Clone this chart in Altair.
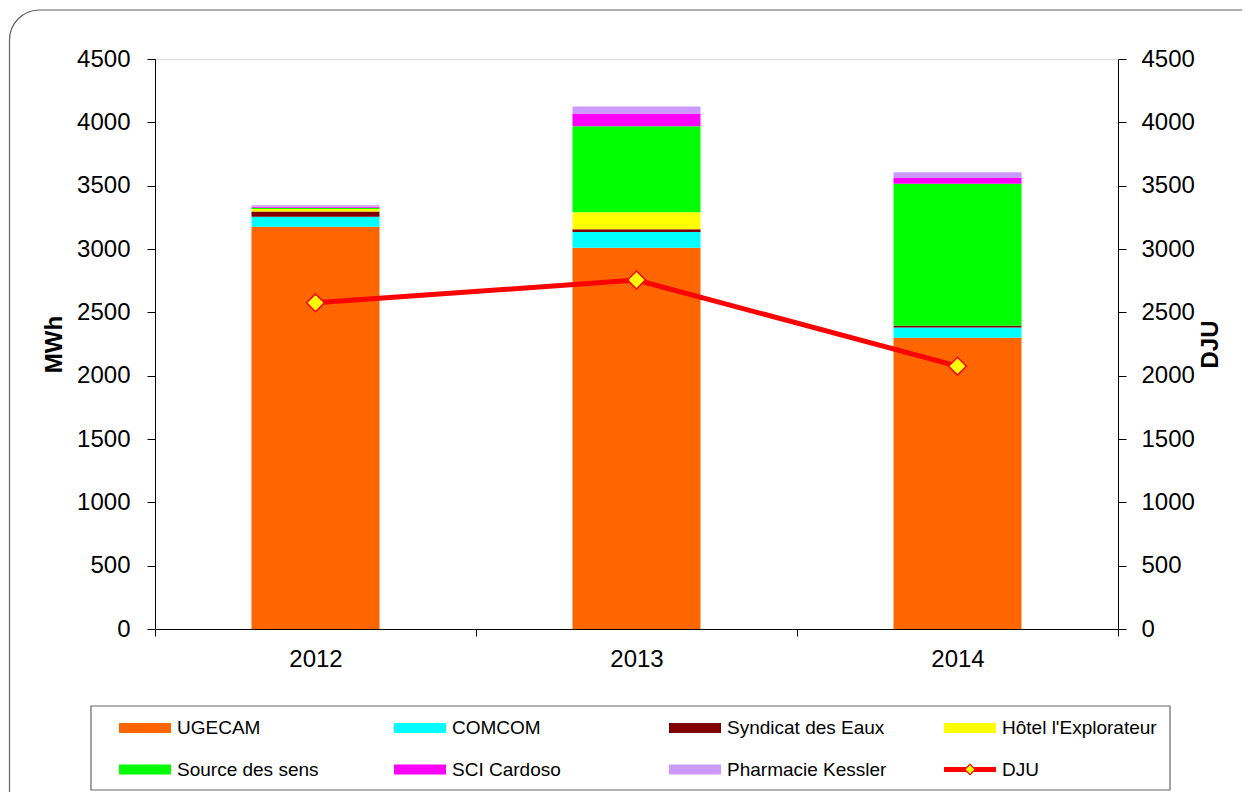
import altair as alt
import pandas as pd

years = ["2012", "2013", "2014"]
series_names = ["UGECAM", "COMCOM", "Syndicat des Eaux", "Hôtel l'Explorateur",
                "Source des sens", "SCI Cardoso", "Pharmacie Kessler"]
series_colors = ["#FF6600", "#00FFFF", "#800000", "#FFFF00",
                 "#00FF00", "#FF00FF", "#CC99FF"]
ugecam = [3175, 3010, 2300]
comcom = [80, 125, 80]
syndicat = [42, 20, 15]
hotel = [18, 135, 0]
source = [10, 680, 1120]
sci = [8, 100, 45]
pharmacie = [13, 55, 45]
dju = [2575, 2755, 2075]
y_ticks = [0, 500, 1000, 1500, 2000, 2500, 3000, 3500, 4000, 4500]

legend_labels = series_names + ["DJU"]
legend_cols = [0, 1, 2, 3, 0, 1, 2, 3]
legend_rows = [0, 0, 0, 0, 1, 1, 1, 1]

all_values = [ugecam, comcom, syndicat, hotel, source, sci, pharmacie]
rows = []
for i, name in enumerate(series_names):
    for j, yr in enumerate(years):
        rows.append({"year": yr, "series": name, "value": all_values[i][j], "order": i})
df_bars = pd.DataFrame(rows)
df_line = pd.DataFrame({"year": years, "DJU": dju})
df_leg = pd.DataFrame({"series": legend_labels, "col": legend_cols, "row": legend_rows})
df_leg_bars = df_leg[df_leg["series"] != "DJU"]
df_leg_line = df_leg[df_leg["series"] == "DJU"]
one = pd.DataFrame({"k": [0]})

FONT = "Liberation Sans"

color_scale = alt.Scale(domain=series_names, range=series_colors)

bars = alt.Chart(df_bars).mark_bar(size=128).encode(
    x=alt.X("year:N", scale=alt.Scale(domain=years, paddingInner=0, paddingOuter=0),
            axis=alt.Axis(title=None, labelAngle=0, tickBand="extent", tickSize=7,
                          labelPadding=11, labelFontSize=24, domainColor="black",
                          tickColor="black", labelColor="black")),
    y=alt.Y("value:Q", stack="zero", scale=alt.Scale(domain=[0, 4500], nice=False),
            axis=alt.Axis(values=y_ticks, format="d", title="MWh", grid=False, tickSize=8,
                          labelPadding=17, labelFontSize=24, titleFontSize=24,
                          titleFontWeight="bold", titlePadding=10, domainColor="black",
                          tickColor="black", labelColor="black", titleColor="black")),
    color=alt.Color("series:N", scale=color_scale, legend=None),
    order=alt.Order("order:Q"),
)

dju_y = alt.Y("DJU:Q", scale=alt.Scale(domain=[0, 4500], nice=False),
              axis=alt.Axis(orient="right", values=y_ticks, format="d", title="DJU",
                            grid=False, tickSize=8, labelPadding=15, labelFontSize=24,
                            titleFontSize=24, titleFontWeight="bold", titlePadding=4,
                            titleAngle=270, titleBaseline="top",
                            domainColor="black", tickColor="black", labelColor="black",
                            titleColor="black"))

line = alt.Chart(df_line).mark_line(color="#FF0000", strokeWidth=5).encode(
    x="year:N", y=dju_y)
pts = alt.Chart(df_line).mark_point(shape="diamond", filled=True, fill="#FFFF00",
                                     stroke="#FF0000", strokeWidth=1.5, size=320,
                                     opacity=1).encode(x="year:N", y=dju_y)

main = alt.layer(bars, alt.layer(line, pts)).resolve_scale(y="independent")

leg_x = alt.X("col:Q", scale=alt.Scale(domain=[0, 3], range=[-10, 815]), axis=None)
leg_y = alt.Y("row:Q", scale=alt.Scale(domain=[0, 1], range=[669, 710.5]), axis=None)

RECT_PATH = "M-1,-0.19L1,-0.19L1,0.19L-1,0.19Z"
LINE_PATH = "M-1,-0.1L1,-0.1L1,0.1L-1,0.1Z"

leg_sym = alt.Chart(df_leg_bars).mark_point(shape=RECT_PATH, size=2704, filled=True,
                                            opacity=1, strokeWidth=0).encode(
    x=leg_x, y=leg_y, color=alt.Color("series:N", scale=color_scale, legend=None))
leg_line = alt.Chart(df_leg_line).mark_point(shape=LINE_PATH, size=2704, filled=True,
                                             fill="#FF0000", opacity=1,
                                             strokeWidth=0).encode(x=leg_x, y=leg_y)
leg_dia = alt.Chart(df_leg_line).mark_point(shape="diamond", size=110, filled=True,
                                            fill="#FFFF00", stroke="#FF0000",
                                            strokeWidth=1.2, opacity=1).encode(
    x=leg_x, y=leg_y)
leg_text = alt.Chart(df_leg).mark_text(align="left", baseline="middle", dx=32,
                                       fontSize=19, font=FONT, color="black").encode(
    x=leg_x, y=leg_y, text="series:N")

legend_box = alt.Chart(one).mark_rect(fillOpacity=0, stroke="#666666",
                                      strokeWidth=1.2).encode(
    x=alt.value(-64), x2=alt.value(1015), y=alt.value(647), y2=alt.value(731))
outer_box = alt.Chart(one).mark_rect(fillOpacity=0, stroke="#606060", strokeWidth=1.2,
                                     cornerRadius=30).encode(
    x=alt.value(-145.5), x2=alt.value(1300), y=alt.value(-49), y2=alt.value(800))

chart = alt.layer(outer_box, legend_box, main, leg_sym, leg_line, leg_dia, leg_text
                  ).resolve_scale(x="independent", y="independent").properties(
    width=963, height=570,
    autosize=alt.AutoSizeParams(type="none"),
    padding={"left": 147, "top": 51, "right": 124, "bottom": 163},
).configure_view(strokeWidth=0).configure_axis(
    labelFont=FONT, titleFont=FONT
).configure(background="white")

chart.save("out.html", embed_options={"renderer": "svg", "actions": False})
